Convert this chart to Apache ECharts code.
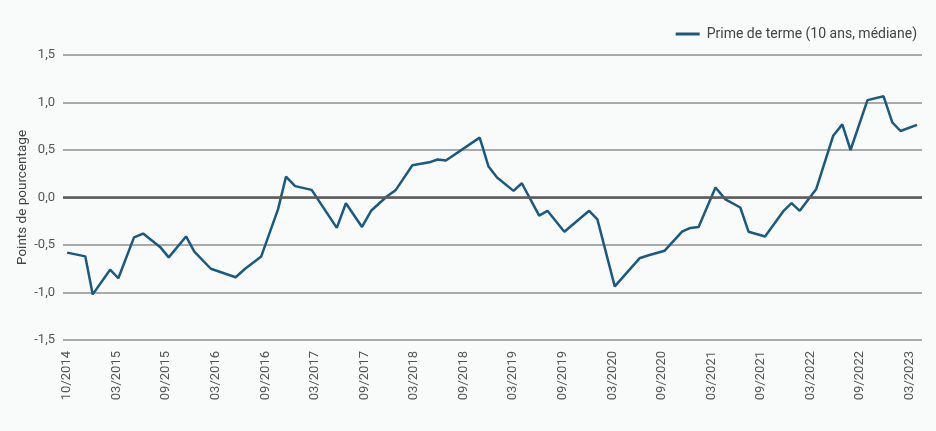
<!DOCTYPE html>
<html>
<head>
<meta charset="utf-8">
<script src="https://cdn.jsdelivr.net/npm/echarts@6/dist/echarts.min.js"></script>
<style>
html,body{margin:0;padding:0;background:#f9fafa;}
#chart{width:936px;height:431px;}
</style>
</head>
<body>
<div id="chart"></div>
<script>
// Tick labels shown on the x axis (one every 6 periods)
const tickLabels = ['10/2014','03/2015','09/2015','03/2016','09/2016','03/2017','09/2017','03/2018','09/2018',
  '03/2019','09/2019','03/2020','09/2020','03/2021','09/2021','03/2022','09/2022','03/2023'];
// Position of each observation, in periods since 10/2014
const periods = [0, 2.2, 3.1, 5.2, 6.2, 8.1, 9.2, 11.25, 12.3, 14.4, 15.4, 17.4, 20.4, 21.55, 23.5, 25.55,
  26.5, 27.6, 29.6, 32.65, 33.75, 35.7, 36.8, 38.7, 39.8, 41.8, 43.85, 44.85, 45.85, 49.95, 51.0, 52.05,
  54.05, 55.05, 57.15, 58.15, 60.2, 63.2, 64.2, 66.3, 69.3, 70.3, 72.35, 74.45, 75.45, 76.45, 78.5, 79.7,
  81.5, 82.5, 84.5, 86.75, 87.7, 88.7, 90.7, 92.75, 93.85, 94.85, 96.9, 98.85, 99.9, 100.9, 102.9];
// Term premium (10 years, median), percentage points
const termPremium = [-0.58, -0.62, -1.02, -0.76, -0.85, -0.42, -0.38, -0.52, -0.63, -0.41, -0.57, -0.75, -0.84, -0.75, -0.62, -0.12,
  0.22, 0.12, 0.08, -0.32, -0.06, -0.31, -0.14, 0.01, 0.08, 0.34, 0.37, 0.40, 0.39, 0.63, 0.33, 0.21,
  0.07, 0.15, -0.19, -0.14, -0.36, -0.14, -0.23, -0.935, -0.64, -0.61, -0.56, -0.36, -0.32, -0.31, 0.105, -0.02,
  -0.105, -0.36, -0.41, -0.14, -0.06, -0.14, 0.09, 0.65, 0.77, 0.50, 1.025, 1.065, 0.79, 0.70, 0.765];
const seriesName = 'Prime de terme (10 ans, médiane)';
const yAxisName = 'Points de pourcentage';

const chart = echarts.init(document.getElementById('chart'));
const font = 'Roboto, "Noto Sans", sans-serif';
chart.setOption({
  backgroundColor: '#f9fafa',
  animation: false,
  textStyle: {fontFamily: font},
  legend: {
    right: 14, top: 22,
    itemWidth: 24, itemHeight: 3, itemGap: 10,
    textStyle: {color: '#444', fontSize: 14, fontFamily: font, padding: [0, 0, 0, 2]},
    data: [{name: seriesName, icon: 'rect'}]
  },
  grid: {left: 63, right: 14, top: 55, bottom: 91},
  xAxis: {
    type: 'value', min: -0.5, max: 103.5,
    axisLine: {show: false}, axisTick: {show: false}, splitLine: {show: false},
    axisLabel: {
      customValues: tickLabels.map((_, i) => i * 6),
      formatter: v => tickLabels[Math.round(v / 6)],
      rotate: 90, margin: 11, color: '#555', fontSize: 13, fontFamily: font
    }
  },
  yAxis: {
    type: 'value', min: -1.5, max: 1.5, interval: 0.5,
    name: yAxisName, nameLocation: 'middle', nameGap: 33, nameMoveOverlap: false,
    nameTextStyle: {color: '#444', fontSize: 13.5, fontFamily: font},
    axisLine: {show: false}, axisTick: {show: false},
    axisLabel: {formatter: v => v.toFixed(1).replace('.', ','), color: '#555', fontSize: 13, margin: 8, fontFamily: font},
    splitLine: {lineStyle: {color: '#8f8f8f', width: 1.5}}
  },
  series: [{
    name: seriesName, type: 'line', symbol: 'none',
    data: periods.map((p, i) => [p, termPremium[i]]),
    lineStyle: {color: '#1a5a82', width: 2.5},
    itemStyle: {color: '#1a5a82'},
    markLine: {
      silent: true, symbol: ['none', 'none'], label: {show: false},
      lineStyle: {color: '#5a5a5a', width: 2.5, type: 'solid'},
      data: [{yAxis: 0}]
    },
    z: 3
  }]
});
</script>
</body>
</html>
